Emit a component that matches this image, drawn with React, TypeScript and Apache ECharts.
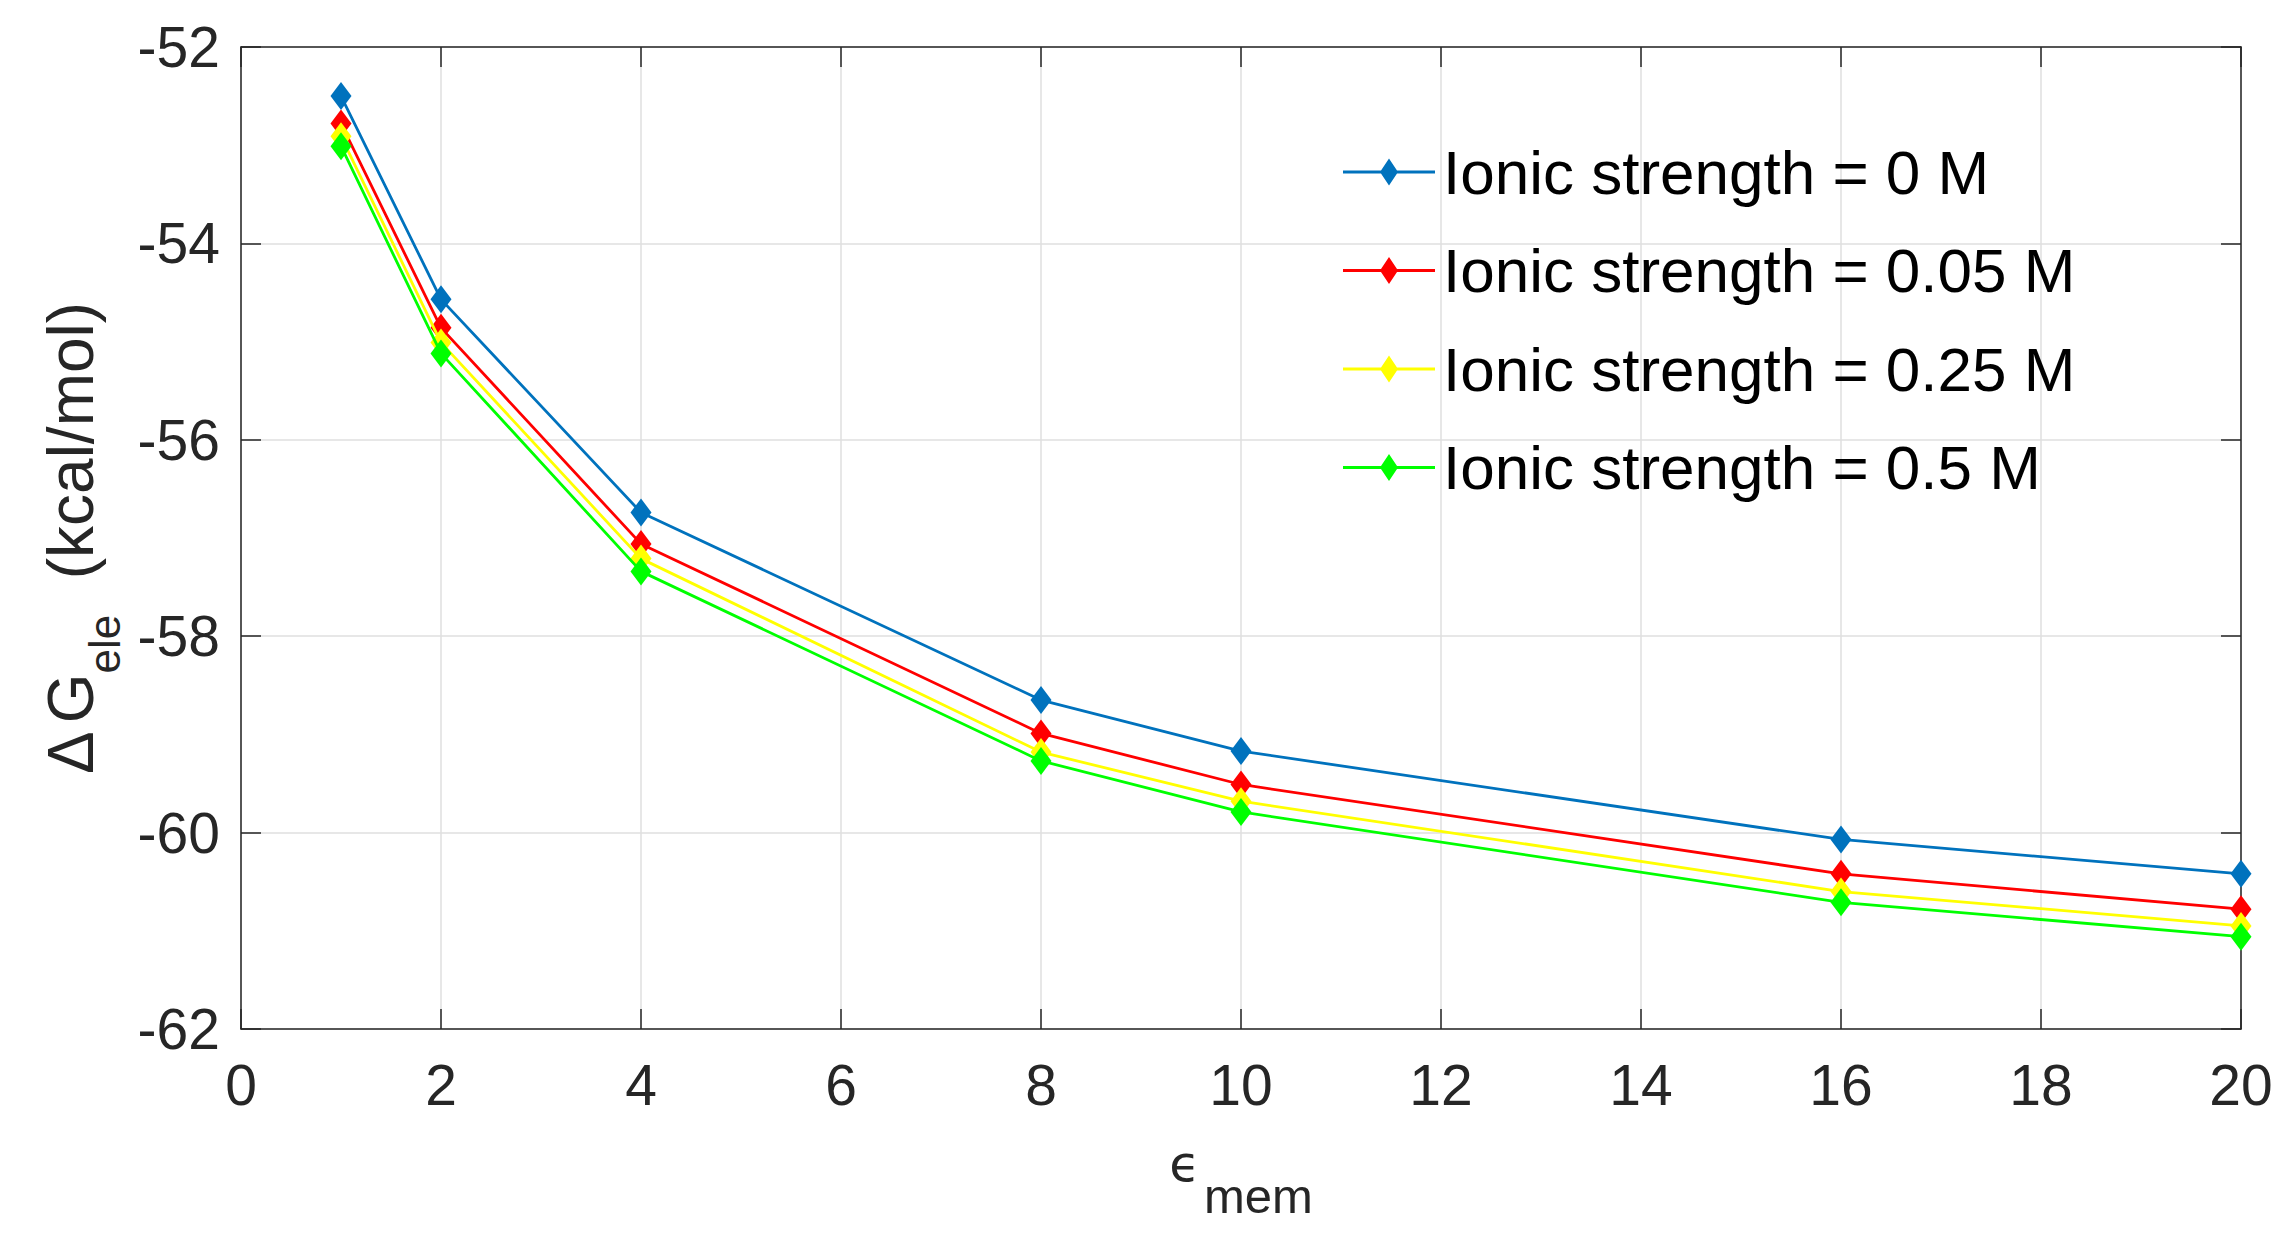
import React, { useEffect, useRef } from "react";
import * as echarts from "echarts";

const X_VALUES = [1, 2, 4, 8, 10, 16, 20];
const SERIES_NAMES = [
  "Ionic strength = 0 M",
  "Ionic strength = 0.05 M",
  "Ionic strength = 0.25 M",
  "Ionic strength = 0.5 M",
];
const IS_0 = [-52.5, -54.57, -56.74, -58.65, -59.17, -60.07, -60.42];
const IS_005 = [-52.78, -54.86, -57.06, -58.99, -59.51, -60.42, -60.78];
const IS_025 = [-52.91, -55.01, -57.21, -59.18, -59.68, -60.6, -60.95];
const IS_05 = [-53.01, -55.12, -57.34, -59.27, -59.79, -60.71, -61.06];
const SERIES_VALUES = [IS_0, IS_005, IS_025, IS_05];
const COLORS = ["#0072BD", "#FF0000", "#FFFF00", "#00FF00"];

const X_MIN = 0;
const X_MAX = 20;
const X_STEP = 2;
const Y_MIN = -62;
const Y_MAX = -52;
const Y_STEP = 2;

const FONT = "Liberation Sans, Arial, Helvetica, sans-serif";
const AXIS_COLOR = "#262626";
const GRID_COLOR = "#dfdfdf";

const LEGEND_ICON =
  "path://M0,12.6L92,12.6L92,15.4L0,15.4Z M46,0.5L55,14L46,27.5L37,14Z";

export default function App() {
  const ref = useRef<HTMLDivElement>(null);

  useEffect(() => {
    document.body.style.margin = "0";
    if (!ref.current) return;
    const chart = echarts.init(ref.current, null, { renderer: "svg" });

    const baseX = {
      type: "value" as const,
      min: X_MIN,
      max: X_MAX,
      interval: X_STEP,
      axisLine: { show: true, onZero: false, lineStyle: { color: AXIS_COLOR, width: 1.5 } },
      axisTick: { show: true, inside: true, length: 20, lineStyle: { color: AXIS_COLOR, width: 1.5 } },
    };
    const baseY = {
      type: "value" as const,
      min: Y_MIN,
      max: Y_MAX,
      interval: Y_STEP,
      axisLine: { show: true, onZero: false, lineStyle: { color: AXIS_COLOR, width: 1.5 } },
      axisTick: { show: true, inside: true, length: 20, lineStyle: { color: AXIS_COLOR, width: 1.5 } },
    };

    chart.setOption({
      animation: false,
      backgroundColor: "#ffffff",
      grid: {
        left: 241,
        top: 47,
        width: 2000,
        height: 982,
        containLabel: false,
        outerBoundsMode: "none",
      },
      xAxis: [
        {
          ...baseX,
          position: "bottom",
          splitLine: { show: true, lineStyle: { color: GRID_COLOR, width: 1.5 } },
          axisLabel: {
            show: true,
            margin: 27,
            fontSize: 57,
            fontFamily: FONT,
            color: AXIS_COLOR,
          },
          name: "{e|ϵ}{s|mem}",
          nameLocation: "middle",
          nameGap: 110,
          nameTextStyle: {
            color: AXIS_COLOR,
            rich: {
              e: {
                fontSize: 50,
                lineHeight: 50,
                fontFamily: "DejaVu Sans",
                color: AXIS_COLOR,
                verticalAlign: "top",
                padding: [0, 4, 0, 0],
              },
              s: {
                fontSize: 49,
                lineHeight: 49,
                fontFamily: FONT,
                color: AXIS_COLOR,
                verticalAlign: "top",
                padding: [32, 0, 0, 0],
              },
            },
          },
        },
        {
          ...baseX,
          position: "top",
          splitLine: { show: false },
          axisLabel: { show: false },
        },
      ],
      yAxis: [
        {
          ...baseY,
          position: "left",
          splitLine: { show: true, lineStyle: { color: GRID_COLOR, width: 1.5 } },
          axisLabel: {
            show: true,
            margin: 21,
            fontSize: 57,
            fontFamily: FONT,
            color: AXIS_COLOR,
          },
          name: "{d|Δ}{m|G}{s|ele}{m|  (kcal/mol)}",
          nameLocation: "middle",
          nameRotate: 90,
          nameGap: 128,
          nameTextStyle: {
            color: AXIS_COLOR,
            rich: {
              d: {
                fontSize: 64,
                lineHeight: 64,
                fontFamily: FONT,
                color: AXIS_COLOR,
                verticalAlign: "top",
                padding: [0, 8, 0, 0],
              },
              m: {
                fontSize: 64,
                lineHeight: 64,
                fontFamily: FONT,
                color: AXIS_COLOR,
                verticalAlign: "top",
              },
              s: {
                fontSize: 44,
                lineHeight: 44,
                fontFamily: FONT,
                color: AXIS_COLOR,
                verticalAlign: "top",
                padding: [44, 0, 0, 0],
              },
            },
          },
        },
        {
          ...baseY,
          position: "right",
          splitLine: { show: false },
          axisLabel: { show: false },
        },
      ],
      legend: {
        show: true,
        orient: "vertical",
        left: 1343,
        top: 141,
        padding: 0,
        itemWidth: 92,
        itemHeight: 28,
        itemGap: 36.5,
        icon: LEGEND_ICON,
        selectedMode: false,
        data: SERIES_NAMES,
        textStyle: {
          fontSize: 62,
          lineHeight: 62,
          fontFamily: FONT,
          color: "#000000",
          padding: [0, 0, 0, 3],
        },
      },
      series: SERIES_NAMES.map((name, i) => ({
        name,
        type: "line",
        xAxisIndex: 0,
        yAxisIndex: 0,
        data: X_VALUES.map((x, j) => [x, SERIES_VALUES[i][j]]),
        symbol: "diamond",
        symbolSize: [21, 28],
        showAllSymbol: true,
        color: COLORS[i],
        itemStyle: { color: COLORS[i], borderWidth: 0 },
        lineStyle: { color: COLORS[i], width: 2.8 },
        emphasis: { disabled: true },
        z: 2 + i,
      })),
    });

    return () => {
      chart.dispose();
    };
  }, []);

  return <div ref={ref} style={{ width: 2286, height: 1236 }} />;
}
